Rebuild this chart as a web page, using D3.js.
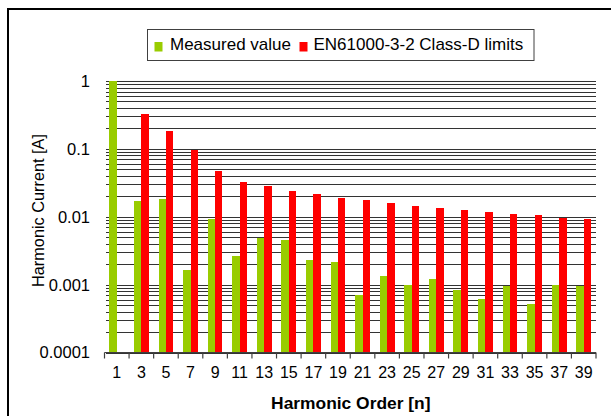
<!DOCTYPE html>
<html>
<head>
<meta charset="utf-8">
<script src="https://cdn.jsdelivr.net/npm/d3@7"></script>
<style>
  html, body { margin: 0; padding: 0; background: #fff; }
  svg { display: block; font-family: "Liberation Sans", Arial, sans-serif; }
</style>
</head>
<body>
<svg id="chart" width="611" height="416"></svg>
<script>
// ---- data ----
const harmonics = [1, 3, 5, 7, 9, 11, 13, 15, 17, 19, 21, 23, 25, 27, 29, 31, 33, 35, 37, 39];
const measured = [1.0, 0.0172, 0.0184, 0.00166, 0.0094, 0.00267, 0.0049, 0.0046, 0.00233, 0.00218,
                  0.00071, 0.00136, 0.0010, 0.00123, 0.00082, 0.00062, 0.00094, 0.00051, 0.0010, 0.00094];
const limits = [null, 0.326, 0.181, 0.096, 0.047, 0.0325, 0.0282, 0.0240, 0.0213, 0.0190,
                0.0174, 0.0157, 0.0143, 0.0133, 0.0124, 0.0116, 0.0109, 0.0105, 0.0095, 0.0093];
const yTickValues = [1, 0.1, 0.01, 0.001, 0.0001];
const yTickLabels = ["1", "0.1", "0.01", "0.001", "0.0001"];
const seriesNames = ["Measured value", "EN61000-3-2 Class-D limits"];
const seriesColors = ["#99CC00", "#FF0000"];

// ---- layout ----
const svg = d3.select("#chart");
const plot = { left: 104.5, right: 596, top: 81, bottom: 352.5 };

// outer frame (extends past right/bottom edges)
svg.append("rect")
  .attr("x", 8).attr("y", 9)
  .attr("width", 700).attr("height", 500)
  .attr("fill", "#fff").attr("stroke", "#000").attr("stroke-width", 2);

const x = d3.scaleBand().domain(harmonics).range([plot.left, plot.right]).paddingInner(0).paddingOuter(0);
const xs = d3.scaleBand().domain([0, 1]).range([0, x.bandwidth()]).paddingInner(0).paddingOuter(0.66);
const y = d3.scaleLog().domain([0.0001, 1]).range([plot.bottom, plot.top]);

// gridlines (major + minor)
const gridVals = [];
for (let e = -4; e < 0; e++) {
  for (let k = 1; k <= 9; k++) gridVals.push(k * Math.pow(10, e));
}
gridVals.push(1);
svg.append("g").selectAll("line").data(gridVals).join("line")
  .attr("x1", plot.left + 1.5).attr("x2", plot.right)
  .attr("y1", d => Math.round(y(d)) + 0.5).attr("y2", d => Math.round(y(d)) + 0.5)
  .attr("stroke", "#333").attr("stroke-width", 1)
  .attr("shape-rendering", "crispEdges");

// bars
const rows = harmonics.map((h, i) => ({ h, vals: [measured[i], limits[i]] }));
const groups = svg.append("g").selectAll("g").data(rows).join("g")
  .attr("transform", d => `translate(${x(d.h)},0)`);
groups.selectAll("rect")
  .data(d => d.vals.map((v, j) => ({ v, j })).filter(o => o.v != null))
  .join("rect")
  .attr("x", o => xs(o.j))
  .attr("width", xs.bandwidth())
  .attr("y", o => y(o.v))
  .attr("height", o => plot.bottom - y(o.v))
  .attr("fill", o => seriesColors[o.j])
  .attr("shape-rendering", "crispEdges");

// x axis
const xAxis = svg.append("g");
xAxis.append("line")
  .attr("x1", plot.left).attr("x2", plot.right)
  .attr("y1", plot.bottom).attr("y2", plot.bottom)
  .attr("stroke", "#404040").attr("stroke-width", 1.2);
const boundaries = harmonics.map(h => x(h)).concat([plot.right]);
xAxis.selectAll("line.tick").data(boundaries).join("line")
  .attr("class", "tick")
  .attr("x1", d => d).attr("x2", d => d)
  .attr("y1", plot.bottom).attr("y2", plot.bottom + 6)
  .attr("stroke", "#404040").attr("stroke-width", 1.2);
xAxis.selectAll("text").data(harmonics).join("text")
  .attr("x", d => x(d) + x.bandwidth() / 2)
  .attr("y", 377.5)
  .attr("text-anchor", "middle")
  .attr("font-size", "16px")
  .attr("fill", "#000")
  .text(d => d);

// y tick labels
svg.append("g").selectAll("text").data(yTickValues).join("text")
  .attr("x", 90)
  .attr("y", d => y(d))
  .attr("dy", "0.36em")
  .attr("text-anchor", "end")
  .attr("font-size", "16.5px")
  .attr("fill", "#000")
  .text((d, i) => yTickLabels[i]);

// axis titles
svg.append("text")
  .attr("transform", "translate(43.5,210.5) rotate(-90)")
  .attr("text-anchor", "middle")
  .attr("font-size", "16.3px")
  .attr("fill", "#000")
  .text("Harmonic Current [A]");
svg.append("text")
  .attr("x", 350.8).attr("y", 409)
  .attr("text-anchor", "middle")
  .attr("font-size", "17.4px")
  .attr("font-weight", "bold")
  .attr("fill", "#000")
  .text("Harmonic Order [n]");

// legend
const legend = svg.append("g");
legend.append("rect")
  .attr("x", 147.5).attr("y", 29.5).attr("width", 386.5).attr("height", 31)
  .attr("fill", "#fff").attr("stroke", "#404040").attr("stroke-width", 1);
const legendX = [154.5, 299.5];
const legendTextX = [170, 313.5];
seriesNames.forEach((name, i) => {
  legend.append("rect")
    .attr("x", legendX[i]).attr("y", 42).attr("width", 8).attr("height", 9.5)
    .attr("fill", seriesColors[i]);
  legend.append("text")
    .attr("x", legendTextX[i]).attr("y", 50)
    .attr("font-size", "17px")
    .attr("fill", "#000")
    .text(name);
});
</script>
</body>
</html>
